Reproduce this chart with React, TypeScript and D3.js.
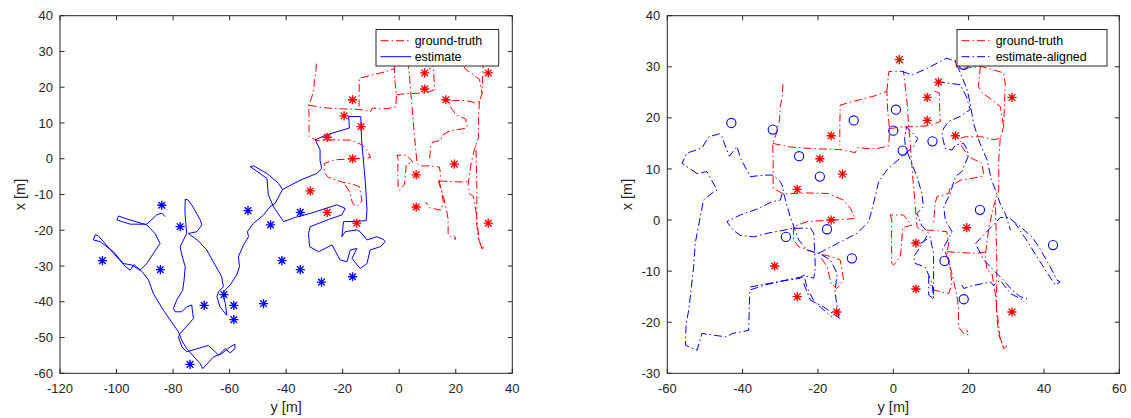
import * as d3 from "d3"

type Pt = [number, number] // [y (horizontal axis), x (vertical axis)]

// ground-truth trajectory pieces (same in both panels)
const gtSegments: Pt[][] = [
  [[-29.3, 26.6], [-29.5, 24], [-30.0, 22.2], [-30.2, 19.6], [-31, 17], [-32.0, 15.0], [-31.9, 11.0], [-31.9, 6.2], [-29.1, 5.1], [-23.0, 5.3], [-17.2, 5.2], [-13.2, 3.9], [-11.4, 2.3], [-10.1, 0.3], [-16.0, 0.0], [-22.9, -0.3], [-26.5, -1.3], [-26.5, -3.9], [-25.1, -5.2], [-20.3, -6.5], [-16.3, -7.2], [-14.1, -7.8], [-13.6, -9.8], [-13.2, -11.8], [-15.0, -13.4], [-16.5, -12.5], [-17.6, -9.1], [-19.5, -7]],
  [[-32.0, 15.0], [-27.3, 14.3], [-22, 14.0], [-18.5, 13.9], [-14.2, 13.8], [-10.1, 13.2], [-9.5, 14.2], [-7, 14.0], [-4.3, 14.0], [-1.2, 14.5], [-1.0, 17.8], [-1.5, 21.5], [-1.7, 25.2], [-5.0, 24.3], [-9.2, 23.5], [-14.1, 22.5], [-14.2, 18.5], [-14.2, 14.6]],
  [[-1.7, 25.2], [-1.2, 29.1], [2.7, 29.1], [3.2, 26], [3.6, 23.5], [4.1, 18.3], [4.6, 14], [5.2, 8], [5.8, 3], [6.3, -1.3], [7.2, -2.0], [10.7, -2.0], [14.2, -2.3], [14.7, -4.6], [14.2, -6.5], [15.0, -9], [15.6, -12.4], [14.7, -14.4], [12.5, -14], [10.7, -13.7], [9.4, -12.1]],
  [[-1.0, 17.9], [2, 18.2], [6.3, 18.3], [9.8, 18.5], [12.5, 19.3], [12.3, 22], [12.2, 24.9], [10.5, 25.3]],
  [[16.4, 31.4], [16.9, 29.7], [20, 29.8], [23.1, 30.1], [26, 29.5], [29.3, 28.8], [29.7, 26.8], [29.5, 22], [29.3, 18.3], [28.4, 16.0], [26.6, 15.7], [23.5, 16.3], [19.1, 16.3], [17.8, 16.0], [18.2, 14.4], [20, 12.4], [23.5, 11.1], [24, 9.1], [23.5, 8.5], [17.8, 7.8], [15.1, 6.5], [14.7, 5.2], [11.6, 4.6], [11.1, 3.3], [10.7, -0.7]],
  [[23.1, 30.1], [22.6, 26.1], [23.5, 25.0], [26.2, 23.5], [28.4, 22.2], [29.3, 18.3]],
  [[28.4, 16.0], [28.0, 12], [28.0, 5.9], [26.6, 2.6], [25.5, -1], [24.9, -4.0], [24.4, -7.2], [24.9, -9.8], [26.2, -10.5], [27.2, -15], [27.5, -19], [28.0, -22.5], [29.3, -24.8], [30.2, -24.6], [29.3, -25.2], [28.3, -23], [27.4, -17], [27.5, -9.2], [27.1, 3.9]],
  [[14.2, -6.2], [18, -6.4], [22.2, -6.5], [24.4, -6.3]],
  [[13.8, -6.2], [15.6, -10.5], [16.9, -15.0], [17.3, -17.0], [17.3, -20.9], [18.7, -22.2], [20.0, -22.5], [19.5, -21.5]],
  [[-0.4, 0], [-0.8, 1.0], [2.7, 1.0], [4.9, -1.0], [2.5, -1.5], [1.9, -7.2], [0.1, -8.8], [-0.4, -8.5], [-0.5, -3], [-0.4, 0]],
]

const gtLandmarks: Pt[] = [
  [9, 24], [31.5, 24], [9, 19.5], [16.5, 16.5], [-16.5, 16.5], [-19.5, 12], [-13.5, 9], [-25.5, 6],
  [-16.5, 0], [19.5, -1.5], [6, -4.5], [-31.5, -9], [6, -13.5], [-25.5, -15], [-15, -18], [31.5, -18],
  [1.6, 31.4], [12, 27],
]

// left panel: raw estimate
const estTrack: Pt[] = [
  [-82.8, -16.2], [-84, -15.2], [-85.8, -15.7], [-89.3, -18.3], [-95.2, -18.3], [-99.9, -17.1], [-99.3, -16.0], [-96.5, -16.8], [-89.3, -18.5], [-86.4, -20.9], [-84.6, -23.7], [-87, -26.5], [-89.3, -29.3], [-91.7, -31.2], [-94.6, -29.7], [-97.6, -29.3], [-101.1, -26.0], [-105.8, -23.2], [-108.2, -22.7], [-107.6, -21.3], [-106.5, -21.5], [-101, -26.5], [-97, -30], [-95.2, -31.2], [-93.8, -29.6], [-91, -31.5], [-88.7, -33.9], [-87.0, -37.7], [-83.4, -42.4], [-78.1, -48.4], [-76.9, -50.8], [-75.2, -53.1], [-70.4, -57.3], [-69.5, -58.7], [-65.7, -55.4], [-62.8, -54.5], [-59.8, -52.6], [-58.1, -51.9], [-58.1, -53.1], [-59.8, -54.3], [-61.6, -53.1], [-63.9, -54.9], [-67.5, -52.2], [-69.3, -52.6], [-75.2, -54.0], [-76.9, -52.6], [-78.1, -49.8], [-77.5, -48.9], [-72.8, -44.7], [-73.4, -40.9], [-75.2, -41.4], [-76.9, -42.8], [-79.3, -42.8], [-79.9, -41.9], [-78.7, -39.5], [-76.6, -36.8], [-76.1, -33.9], [-75.7, -30.2], [-76.9, -26.9], [-77.5, -24.6], [-75.2, -20.9], [-75.8, -15], [-75.7, -11.3], [-74.8, -11.5], [-73.4, -12.9], [-70.4, -17.1], [-69.8, -18.5], [-71.6, -20.4], [-74.6, -20.9], [-71, -23], [-68.1, -25.5], [-62.8, -33.0], [-62.2, -35.8], [-63.9, -37.2], [-64.5, -38.6], [-63.4, -41.4], [-61.0, -43.8], [-61.5, -40.5], [-62.5, -37.5], [-59.8, -35.3], [-57.5, -32.5], [-56.5, -30.2], [-56.9, -27.4], [-55, -24], [-53.3, -21.8], [-53.7, -20.4], [-51.6, -18.1], [-48.0, -15.7], [-45.7, -13.4], [-43.9, -12.5], [-41.3, -8.6], [-35, -6], [-29.1, -4.1], [-27.4, -2.7], [-28, -0.5], [-28.0, 2.5], [-29.7, 5.3], [-25.6, 6.7], [-17.6, 8.6], [-17.9, 11.8], [-13.6, 11.8], [-13.3, 5], [-12.0, -6.4], [-11.6, -11.5], [-11.4, -14.3], [-11.7, -17.3], [-15, -17.5], [-19.7, -17.6], [-20.3, -21.8], [-19.1, -20.4], [-15.0, -19.9], [-13.8, -20.4], [-11.4, -22.7], [-7.9, -21.8], [-5.5, -22.6], [-5.0, -23.2], [-6.7, -24.6], [-10.3, -25.5], [-11.4, -29.3], [-13.8, -30.7], [-16.7, -27.9], [-15.0, -25.1], [-17.3, -25.5], [-18.5, -28.8], [-20.9, -28.3], [-23.8, -24.1], [-28.5, -26.0], [-31.7, -24.6], [-32.1, -20.9], [-31.5, -19.0], [-25, -17], [-20.3, -15.7], [-19.1, -13.9], [-22.1, -12.9], [-31.5, -15.3], [-36.8, -16.4], [-40.9, -17.6], [-44.5, -13.4], [-46.3, -10.1], [-46.8, -5.5], [-52.7, -2.2], [-51.5, -2.0], [-46.8, -4.1], [-42.7, -6.9], [-41.3, -8.6],
]

const estLandmarks: Pt[] = [
  [-84, -13], [-77.5, -19], [-105, -28.5], [-84.5, -31], [-53.5, -14.5], [-45.5, -18.5], [-62, -38], [-69, -41],
  [-58.5, -41], [-58.5, -45], [-48, -40.5], [-74, -57.5], [-35, -15], [-41.5, -28.5], [-35, -31], [-27.5, -34.5], [-16.5, -33],
]

// right panel: aligned estimate
const alignedSegments: Pt[][] = [
  [[-52.1, 9.1], [-56.1, 11.1], [-54.8, 13.1], [-50.8, 14.1], [-49.0, 16.3], [-46.1, 16.9], [-45.5, 16.3], [-44.2, 13.7], [-43.5, 12.5], [-41.5, 14.4], [-40.5, 12], [-38, 8.5], [-34.0, 8.8], [-31.8, 8.8], [-30.0, 7.5], [-29.1, 6.2], [-30.0, 3.9], [-32.2, 3.6], [-36, 2.2], [-40.6, 1.0], [-44.2, -0.3], [-42.5, -2], [-40.6, -3.0], [-37.1, -3.3], [-33.5, -2.6], [-26.4, -1.6], [-22.0, -1.6], [-21.1, -2.6], [-20.7, -9.2], [-21.1, -11.4], [-22.9, -11.0], [-26.4, -11.4], [-34.0, -12.7], [-38.1, -13.7], [-38.4, -21.6], [-42.8, -22.2], [-44.2, -22.9], [-50.8, -22.2], [-52.1, -25.5], [-55.2, -24.5], [-55.0, -20.3], [-54.3, -17.6], [-53.0, -9.2], [-52.6, -4.6], [-50.4, 3.9], [-47.7, 5.5], [-46.8, 5.9], [-49.5, 9.5], [-52.1, 9.1]],
  [[-29.1, 5.2], [-27.4, 0.7], [-25.1, -3.9], [-22.9, -5.9], [-19.8, -6.5], [-16.7, -7.8], [-14.9, -10.5], [-15.5, -14], [-14.5, -19.0]],
  [[-19.8, -6.5], [-14.9, -4.6], [-9.6, -2.6], [-6.5, -0.3], [-4.8, 4.6], [-3.9, 7.5], [-1.7, 9.8], [2.7, 12.7], [5.4, 14.4], [6.5, 16], [4.5, 17.5], [3.5, 18.2], [3, 16], [3.2, 14.4], [4.5, 11.8], [6.3, 8.5], [7.6, 5.2], [8, 2.6], [6.3, 1.3], [7.5, -1], [9.4, -2.6], [7.2, -5.2], [5.4, -7.2], [5.8, -8.5], [8.5, -9.2], [10.3, -12.4], [10.7, -15.4], [9.4, -14.7], [9.4, -11]],
  [[-38.0, -13.1], [-30, -12], [-24.7, -11.4], [-23.8, -10.5], [-23, -13], [-21, -16], [-16.3, -19.0]],
  [[-23.8, -12.4], [-22, -15.7], [-18.5, -17], [-14.1, -19.3]],
  [[2.3, 29.1], [5.0, 28.4], [9.0, 29.7], [14.2, 31.7], [16.5, 31.0], [17.8, 28.8], [19.6, 25.5], [20.4, 22.9], [21.3, 18.9], [23.0, 15.0], [24.9, 11.8], [26, 8], [27.1, 5.9], [28.5, 3], [29.7, 1.3], [31.1, -2.0]],
  [[21.8, -4.6], [24.5, -2.5], [26.5, -1], [28.4, 0.5], [30.6, 0.5], [33.7, -1.3], [36.8, -3.3], [38.6, -5.2], [41.7, -9.2], [43.5, -11.8], [44.3, -12.1], [43.0, -12.7], [41, -10.5], [38, -7], [35, -3.5], [32.4, -0.7]],
  [[22.2, -5.2], [24.0, -7.8], [26.6, -9.8], [29.3, -11.8], [31.5, -13.7], [33.7, -15.0], [35.5, -15.4], [34.6, -15.9]],
  [[18.2, -12.7], [18.7, -13.4], [21.3, -12.8], [24.0, -12.4], [25.8, -12.1], [26.6, -12.8], [28.4, -11.8], [31.1, -14.4], [34.6, -15.7]],
  [[11.6, 27.1], [14.5, 26.8], [17.8, 26.5], [19.5, 24], [20.4, 21.6], [17.8, 20.3], [14.7, 19.3], [13.4, 18], [12.9, 16.7], [13.8, 14.0], [15.6, 13.7], [16.5, 14.7], [18.7, 15], [19.6, 13.7], [20.0, 12.7], [18.2, 9.5], [16.5, 8.5], [15.1, 5.2], [13.4, 2.6], [13.8, 0], [15.6, -2.3], [14, -4.5], [12.5, -6.5]],
  [[7.2, -4.6], [9.8, -3.3], [10.3, -5.2], [10.7, -6.5], [10.7, -15.0], [10.3, -15.7]],
]

const alignedLandmarks: Pt[] = [
  [-43, 19], [-32, 17.7], [-25, 12.5], [-19.5, 8.5], [-10.5, 19.5], [0.7, 21.6], [0, 17.5], [2.5, 13.6], [10.4, 15.4],
  [18.7, 30.4], [23, 2], [42.4, -4.9], [-11, -7.5], [13.6, -8], [18.7, -15.5], [-28.5, -3.3], [-17.6, -1.8],
]

const leftXTicks = [-120, -100, -80, -60, -40, -20, 0, 20, 40]
const leftYTicks = [-60, -50, -40, -30, -20, -10, 0, 10, 20, 30, 40]
const rightXTicks = [-60, -40, -20, 0, 20, 40, 60]
const rightYTicks = [-30, -20, -10, 0, 10, 20, 30, 40]

const FONT = '"Liberation Sans", Arial, Helvetica, sans-serif'
const AX = "#262626"
const RED = "#ff0000"
const BLUE = "#0000ff"
const DASHDOT = "8,3,1.5,3"

const starPath = (r: number) => {
  const d = r * 0.72
  return `M${-r},0L${r},0M0,${-r}L0,${r}M${-d},${-d}L${d},${d}M${-d},${d}L${d},${-d}`
}

type Series = { segs: Pt[][]; color: string; dash?: string }
type Marks = { pts: Pt[]; color: string; kind: "star" | "circle" }

function Panel({
  id, x0, x1, y0, y1, xDomain, yDomain, xTicks, yTicks, series, marks, legend,
}: {
  id: string; x0: number; x1: number; y0: number; y1: number
  xDomain: [number, number]; yDomain: [number, number]
  xTicks: number[]; yTicks: number[]
  series: Series[]; marks: Marks[]
  legend: { x: number; w: number; items: { label: string; color: string; dash?: string }[] }
}) {
  const x = d3.scaleLinear().domain(xDomain).range([x0, x1])
  const y = d3.scaleLinear().domain(yDomain).range([y1, y0])
  const line = d3.line<Pt>().x((d) => x(d[0])).y((d) => y(d[1]))
  const tl = 4.5
  return (
    <g>
      <defs>
        <clipPath id={id}>
          <rect x={x0} y={y0} width={x1 - x0} height={y1 - y0} />
        </clipPath>
      </defs>
      <g clipPath={`url(#${id})`}>
        {series.map((s, i) =>
          s.segs.map((seg, j) => (
            <path key={`${i}-${j}`} d={line(seg) ?? ""} fill="none" stroke={s.color}
              strokeWidth={1} strokeDasharray={s.dash} strokeLinejoin="round" />
          ))
        )}
        {marks.map((m, i) =>
          m.pts.map((p, j) =>
            m.kind === "star" ? (
              <path key={`m${i}-${j}`} d={starPath(4.6)} transform={`translate(${x(p[0])},${y(p[1])})`}
                stroke={m.color} strokeWidth={1.35} fill="none" />
            ) : (
              <circle key={`m${i}-${j}`} cx={x(p[0])} cy={y(p[1])} r={4.6} fill="none" stroke={m.color} strokeWidth={1.1} />
            )
          )
        )}
      </g>
      <rect x={x0} y={y0} width={x1 - x0} height={y1 - y0} fill="none" stroke={AX} strokeWidth={1} />
      {xTicks.map((t) => (
        <g key={`xt${t}`}>
          <line x1={x(t)} x2={x(t)} y1={y1} y2={y1 - tl} stroke={AX} />
          <line x1={x(t)} x2={x(t)} y1={y0} y2={y0 + tl} stroke={AX} />
          <text x={x(t)} y={y1 + 20} textAnchor="middle" fontSize={13} fontFamily={FONT} fill={AX}>{t}</text>
        </g>
      ))}
      {yTicks.map((t) => (
        <g key={`yt${t}`}>
          <line x1={x0} x2={x0 + tl} y1={y(t)} y2={y(t)} stroke={AX} />
          <line x1={x1} x2={x1 - tl} y1={y(t)} y2={y(t)} stroke={AX} />
          <text x={x0 - 7} y={y(t) + 4.6} textAnchor="end" fontSize={13} fontFamily={FONT} fill={AX}>{t}</text>
        </g>
      ))}
      <text x={(x0 + x1) / 2} y={y1 + 39} textAnchor="middle" fontSize={14.5} fontFamily={FONT} fill={AX}>y [m]</text>
      <text transform={`translate(${x0 - 35},${(y0 + y1) / 2}) rotate(-90)`} textAnchor="middle" fontSize={14.5}
        fontFamily={FONT} fill={AX}>x [m]</text>
      <g>
        <rect x={legend.x} y={29.5} width={legend.w} height={36.5} fill="#fff" stroke={AX} strokeWidth={1} />
        {legend.items.map((it, i) => (
          <g key={it.label}>
            <line x1={legend.x + 4.5} x2={legend.x + 35.5} y1={40.7 + i * 16} y2={40.7 + i * 16} stroke={it.color}
              strokeWidth={1} strokeDasharray={it.dash} />
            <text x={legend.x + 38.7} y={45.1 + i * 16} fontSize={12.4} fontFamily={FONT} fill="#000">{it.label}</text>
          </g>
        ))}
      </g>
    </g>
  )
}

export default function App() {
  return (
    <svg width={1131} height={418} style={{ position: "absolute", left: 0, top: 0, background: "#fff" }}>
      <Panel
        id="clipL" x0={60} x1={512.3} y0={15.7} y1={373.3}
        xDomain={[-120, 40]} yDomain={[-60, 40]} xTicks={leftXTicks} yTicks={leftYTicks}
        series={[
          { segs: gtSegments, color: RED, dash: DASHDOT },
          { segs: [estTrack], color: BLUE },
        ]}
        marks={[
          { pts: gtLandmarks, color: RED, kind: "star" },
          { pts: estLandmarks, color: BLUE, kind: "star" },
        ]}
        legend={{ x: 376, w: 122.7, items: [
          { label: "ground-truth", color: RED, dash: DASHDOT },
          { label: "estimate", color: BLUE },
        ] }}
      />
      <Panel
        id="clipR" x0={667.3} x1={1119.3} y0={15.7} y1={373.3}
        xDomain={[-60, 60]} yDomain={[-30, 40]} xTicks={rightXTicks} yTicks={rightYTicks}
        series={[
          { segs: gtSegments, color: RED, dash: DASHDOT },
          { segs: alignedSegments, color: BLUE, dash: DASHDOT },
        ]}
        marks={[
          { pts: gtLandmarks, color: RED, kind: "star" },
          { pts: alignedLandmarks, color: BLUE, kind: "circle" },
        ]}
        legend={{ x: 957, w: 150, items: [
          { label: "ground-truth", color: RED, dash: DASHDOT },
          { label: "estimate-aligned", color: BLUE, dash: DASHDOT },
        ] }}
      />
    </svg>
  )
}
